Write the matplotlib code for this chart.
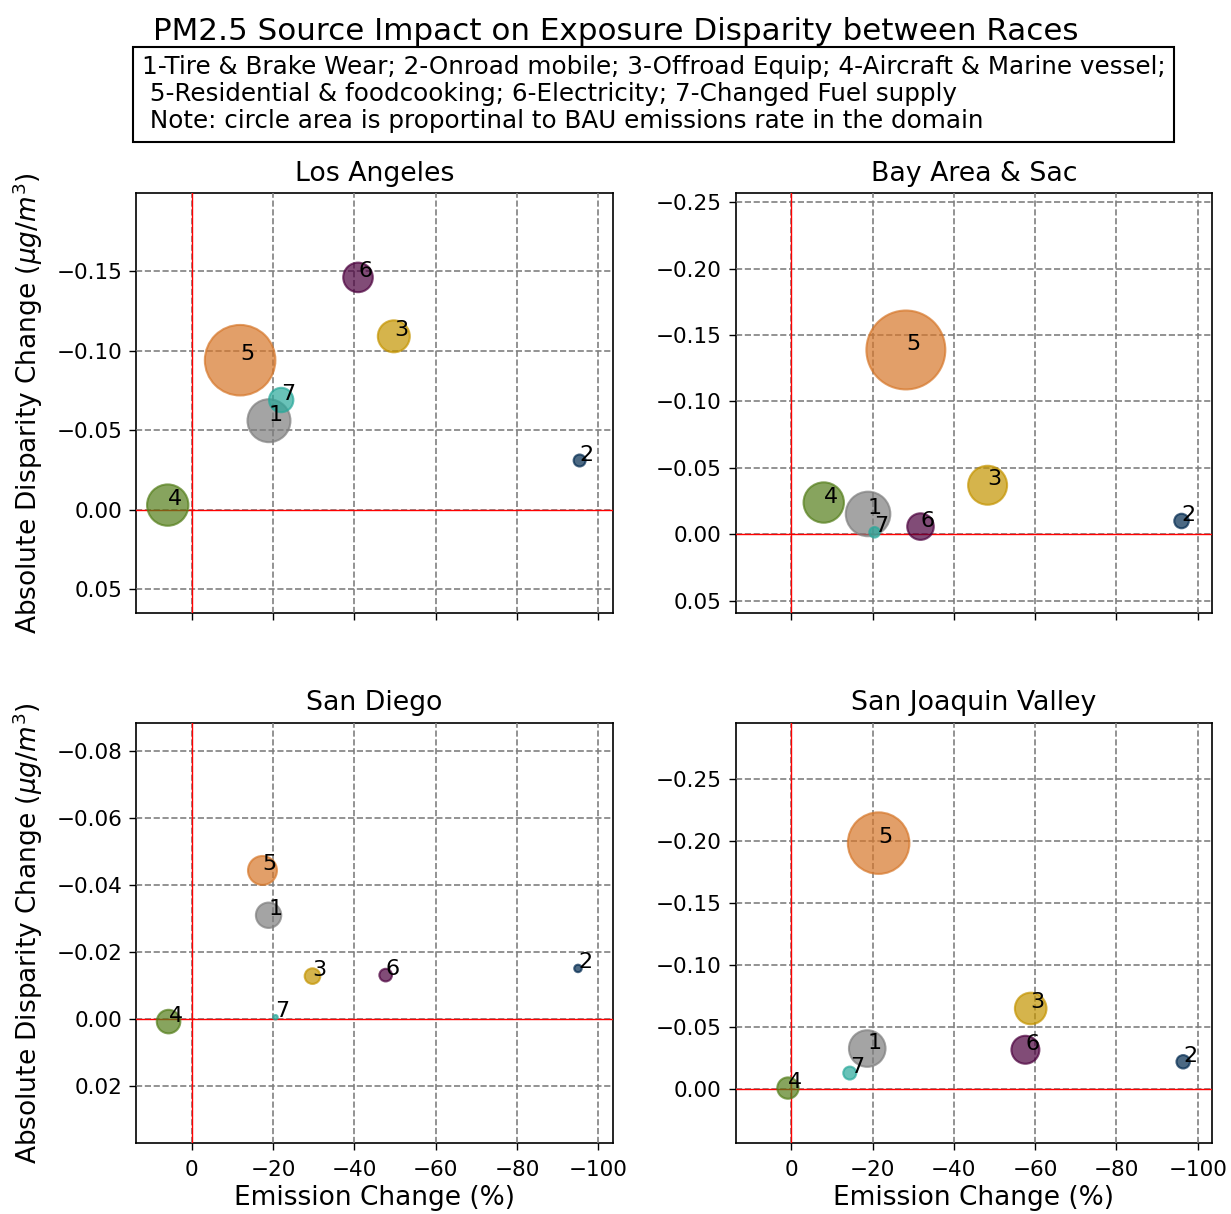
"""
PM2.5 source impact on exposure disparity between races, four regions
"""
import numpy as np
import matplotlib
matplotlib.use('Agg')
import matplotlib.pyplot as plt

###############################################################################
# Data
labels = ['1', '2', '3', '4', '5', '6', '7']
regions = ['Los Angeles', 'Bay Area & Sac', 'San Diego', 'San Joaquin Valley']

# emission change (%)
emis_la = [-19.0, -95.4, -49.7, 5.9, -11.9, -40.9, -22.0]
emis_bay = [-18.9, -96.0, -48.3, -8.0, -28.2, -31.8, -20.5]
emis_sd = [-18.9, -95.0, -29.7, 5.7, -17.4, -47.7, -20.6]
emis_sjv = [-18.7, -96.4, -58.9, 0.8, -21.5, -57.6, -14.4]

# absolute disparity change (ug/m3)
disp_la = [-0.056, -0.031, -0.109, -0.003, -0.094, -0.146, -0.069]
disp_bay = [-0.0153, -0.0100, -0.0369, -0.0239, -0.1387, -0.0058, -0.0015]
disp_sd = [-0.0310, -0.0151, -0.0128, 0.0008, -0.0444, -0.0131, -0.0005]
disp_sjv = [-0.0327, -0.0220, -0.0650, -0.0008, -0.1984, -0.0317, -0.0129]

# BAU emission rate in the domain (relative units)
bau_la = [462, 36, 256, 428, 1246, 219, 149]
bau_bay = [497, 53, 380, 408, 1560, 177, 28]
bau_sd = [161, 14, 61, 139, 210, 40, 5]
bau_sjv = [335, 45, 250, 114, 949, 196, 42]

colors = ['#7e7e7e', '#00294f', '#c49400', '#547e1a', '#d6772a', '#4c003e',
          '#29a99b']

legend_txt = ('1-Tire & Brake Wear; 2-Onroad mobile; 3-Offroad Equip; '
              '4-Aircraft & Marine vessel;\n'
              ' 5-Residential & foodcooking; 6-Electricity; '
              '7-Changed Fuel supply\n'
              ' Note: circle area is proportinal to BAU emissions rate '
              'in the domain')

emis = [emis_la, emis_bay, emis_sd, emis_sjv]
disp = [disp_la, disp_bay, disp_sd, disp_sjv]
bau = [bau_la, bau_bay, bau_sd, bau_sjv]
ylims = [(0.065, -0.199), (0.0595, -0.2568), (0.0371, -0.0886),
         (0.0435, -0.2956)]

###############################################################################
# Plot
fig, axes = plt.subplots(2, 2, figsize=(12.31, 12.14), dpi=100, sharex=True)
fig.subplots_adjust(left=0.1105, right=0.9846, top=0.841, bottom=0.0585,
                    wspace=0.258, hspace=0.26)

for ii, ax in enumerate(axes.flat):
    x = np.array(emis[ii])
    y = np.array(disp[ii])
    s = np.array(bau[ii]) * 2.07
    ax.set_axisbelow(False)  # grid at zorder 2.5
    ax.grid(True, ls='--', color='gray', lw=1.2)
    ax.axhline(0, color='red', lw=1, zorder=2.6)
    ax.axvline(0, color='red', lw=1, zorder=2.6)
    ax.scatter(x, y, s=s, c=colors, edgecolors=colors, linewidths=1.5,
               alpha=0.7, zorder=3)
    for jj, lab in enumerate(labels):
        ax.text(x[jj], y[jj], lab, fontsize=16, zorder=4)
    ax.set_title(regions[ii], fontsize=19.3, pad=9)
    ax.set_xlim(13.7, -103.5)
    ax.set_ylim(*ylims[ii])
    ax.set_xticks([0, -20, -40, -60, -80, -100])
    ax.tick_params(labelsize=15.5, length=5, width=1)
    ax.tick_params(axis='x', pad=7)
    ax.tick_params(axis='y', pad=5)
    for sp in ax.spines.values():
        sp.set_linewidth(1.2)

for ax in axes[:, 0]:
    ax.set_ylabel(r'Absolute Disparity Change ($\mu g/m^3$)', fontsize=19,
                  labelpad=8)
for ax in axes[1, :]:
    ax.set_xlabel('Emission Change (%)', fontsize=19, labelpad=4)

fig.suptitle('PM2.5 Source Impact on Exposure Disparity between Races',
             fontsize=22.3, y=0.986, va='top')
fig.text(0.1153, 0.9545, legend_txt, fontsize=17.7, va='top',
         linespacing=1.16,
         bbox=dict(boxstyle='square,pad=0.35', facecolor='white',
                   edgecolor='black', lw=1.5))

fig.savefig('out.png', dpi=100)
